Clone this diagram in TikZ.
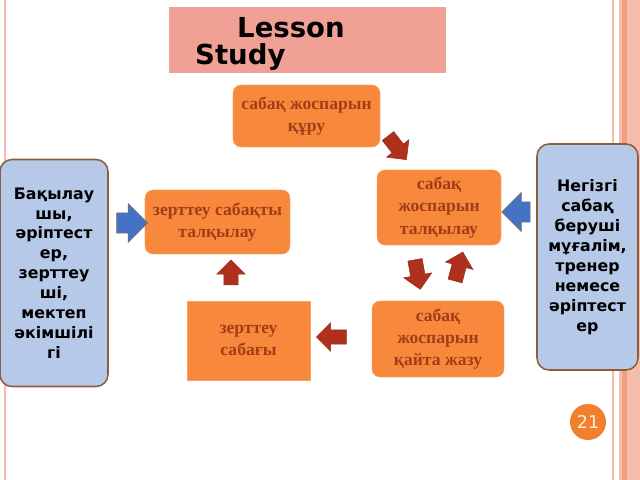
\documentclass[tikz,border=0pt]{standalone}
\usepackage{fontspec}
\newfontfamily\sansf{DejaVu Sans}
\newfontfamily\seriff{Liberation Serif}
\usetikzlibrary{shapes.arrows,positioning}
\definecolor{titlepink}{RGB}{240,160,148}
\definecolor{boxorange}{RGB}{248,136,60}
\definecolor{boxedge}{RGB}{250,160,100}
\definecolor{boxtext}{RGB}{163,61,24}
\definecolor{bluefill}{RGB}{183,201,232}
\definecolor{blueedge}{RGB}{140,94,60}
\definecolor{arrowred}{RGB}{176,48,30}
\definecolor{arrowblue}{RGB}{68,114,196}
\definecolor{numorange}{RGB}{240,127,46}
\definecolor{numtext}{RGB}{255,242,204}
\definecolor{edgepink}{RGB}{245,190,172}
\definecolor{edgedark}{RGB}{239,160,128}

\begin{document}
\begin{tikzpicture}[x=0.03cm,y=-0.03cm]

    \tikzset{
      stepbox/.style={
        draw=boxedge,
        fill=boxorange,
        rounded corners=0.24cm,
        text=boxtext,
        align=center,
        inner sep=0pt,
        font=\seriff\bfseries\fontsize{15}{19}\selectfont,
      },
      whobox/.style={
        draw=blueedge,
        line width=1.3pt,
        fill=bluefill,
        rounded corners=0.36cm,
        align=center,
        inner sep=0pt,
        font=\sansf\bfseries\fontsize{13.5}{17}\selectfont,
      },
      redarrow/.style={
        single arrow,
        fill=arrowred,
        draw=arrowred!85!black,
        inner xsep=0pt,
        inner ysep=0.21cm,
        single arrow head extend=0.21cm,
        minimum height=0.9cm,
      },
      bluearrow/.style={
        single arrow,
        fill=arrowblue,
        draw=blueedge!70!gray,
        inner xsep=0pt,
        inner ysep=0.3cm,
        single arrow head extend=0.28cm,
        minimum height=0.93cm,
      },
      titletext/.style={
        anchor=base west,
        inner sep=0pt,
        font=\sansf\bfseries\fontsize{23.5}{23.5}\selectfont,
      },
    }
    \useasboundingbox (0,0) rectangle (640,480);
    \fill[white] (0,0) rectangle (640,480);

    \fill[edgepink] (4,0) rectangle (6,480);
    \fill[edgepink] (612,0) rectangle (614,480);
    \fill[edgepink] (619,0) rectangle (640,480);
    \fill[edgedark] (622,0) rectangle (627,480);

    \fill[titlepink] (169,7) rectangle (446,73);
    \node[titletext] (lesson) at (237,38) {Lesson};
    \node[titletext] (study) at (195,65) {Study};

    \node[stepbox, minimum width=4.41cm, minimum height=1.86cm] (plan) at (306.5,116) {сабақ жоспарын\\құру};
    \node[stepbox, minimum width=3.72cm, minimum height=2.25cm] (discussplan) at (439,207.5) {сабақ\\жоспарын\\талқылау};
    \node[stepbox, minimum width=3.96cm, minimum height=2.28cm] (rewrite) at (438,339) {сабақ\\жоспарын\\қайта жазу};
    \node[stepbox, rounded corners=0pt, minimum width=3.69cm, minimum height=2.37cm] (lesson study) at (248.5,340.5) {зерттеу\\сабағы};
    \node[stepbox, minimum width=4.35cm, minimum height=1.92cm] (discussles) at (217.5,222) {зерттеу сабақты\\талқылау};

    \node[whobox, minimum width=3.24cm, minimum height=6.81cm] (observers) at (54,273) {Бақылау\\шы,\\әріптест\\ер,\\зерттеу\\ші,\\мектеп\\әкімшілі\\гі};
    \node[whobox, minimum width=3.03cm, minimum height=6.78cm] (teacher) at (587.5,257) {Негізгі\\сабақ\\беруші\\мұғалім,\\тренер\\немесе\\әріптест\\ер};

    \node[redarrow, rotate=-52] (a1) at (395,145) {};
    \node[redarrow, rotate=-80] (a2) at (417,271) {};
    \node[redarrow, rotate=75] (a3) at (458,270) {};
    \node[redarrow, rotate=180] (a4) at (335,337) {};
    \node[redarrow, rotate=90, minimum height=0.75cm] (a5) at (231,276) {};
    \node[bluearrow] (a6) at (127,223) {};
    \node[bluearrow, rotate=180, minimum height=0.85cm] (a7) at (521,212) {};

    \node[circle, fill=numorange, minimum size=1.08cm, inner sep=0pt, text=numtext, font=\sansf\fontsize{15}{15}\selectfont] (pagenum) at (588,422) {21};

\end{tikzpicture}
\end{document}
